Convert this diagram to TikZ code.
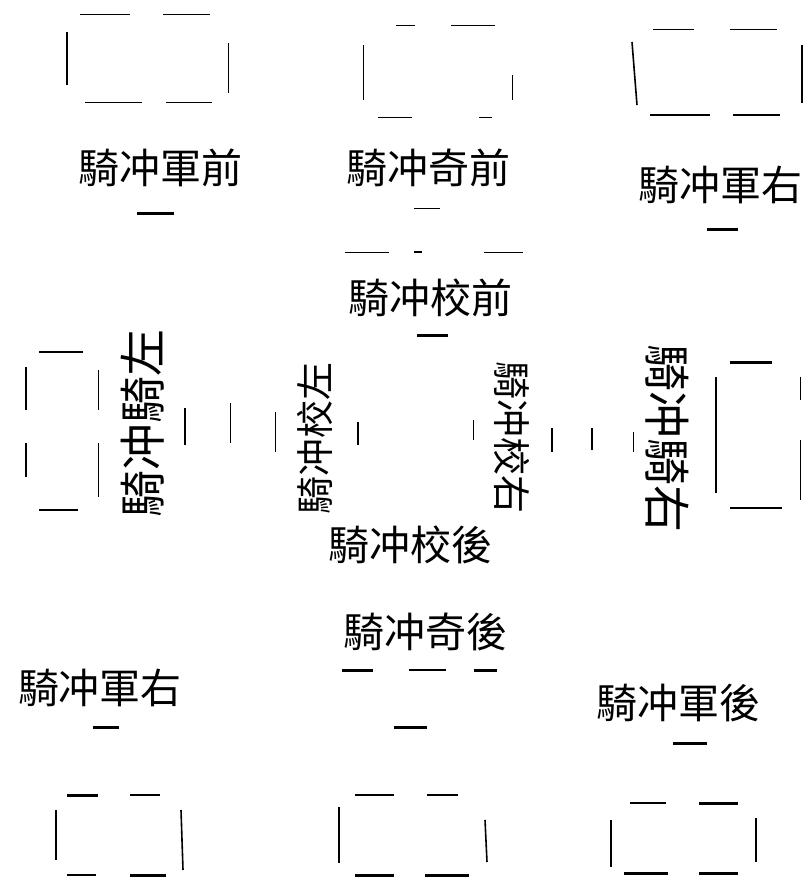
\documentclass[tikz,border=0pt]{standalone}
\usepackage{fontspec}
\newfontfamily\cjk{Noto Sans CJK TC}

\begin{document}
\begin{tikzpicture}[x=1pt, y=-1pt,
        lbl/.style={font={\cjk\fontsize{41}{41}\selectfont}, black, inner sep=0pt},
        vlbl/.style={font={\cjk\fontsize{47}{47}\selectfont}, black, inner sep=0pt},
        small vlbl/.style={font={\cjk\fontsize{38}{38}\selectfont}, black, inner sep=0pt},
        thin seg/.style={line width=1pt, black},
        seg/.style={line width=1.6pt, black},
        bar/.style={line width=3pt, black}]
        \useasboundingbox (0,0) rectangle (809,879);

        % top row of camps
        \draw[thin seg] (80,14) -- (130,14);   \draw[thin seg] (163,14) -- (210,14);
        \draw[seg] (67,32) -- (67,85);         \draw[thin seg] (228,43) -- (228,93);
        \draw[thin seg] (85,102) -- (142,102); \draw[thin seg] (166,102) -- (212,102);

        \draw[thin seg] (396,25) -- (415,25);  \draw[thin seg] (451,25) -- (495,25);
        \draw[thin seg] (363,45) -- (363,100); \draw[thin seg] (512,75) -- (512,100);
        \draw[thin seg] (378,117) -- (412,117);\draw[thin seg] (479,117) -- (492,117);

        \draw[thin seg] (653,29) -- (694,29);  \draw[thin seg] (730,29) -- (777,29);
        \draw[seg] (632,42) -- (637,105);      \draw[seg] (802,45) -- (802,103);
        \draw[seg] (650,115) -- (710,115);     \draw[seg] (733,115) -- (780,115);

        \node[lbl] (junqian) at (160,168) {騎冲軍前};
        \node[lbl] (qiqian) at (428,168) {騎冲奇前};
        \node[lbl] (junyouA) at (720,185) {騎冲軍右};

        \draw[bar] (137,213) -- (174,213);
        \draw[thin seg] (414,208) -- (440,208);
        \draw[bar] (707,229) -- (738,229);

        \draw[thin seg] (345,252) -- (389,252);
        \draw[seg] (414,252) -- (422,252);
        \draw[thin seg] (484,252) -- (523,252);
        \node[lbl] (jiaoqian) at (430,298) {騎冲校前};
        \draw[bar] (417,335) -- (448,335);

        % middle row
        \draw[seg] (39,352) -- (83,352);
        \draw[seg] (26,367) -- (26,410);       \draw[seg] (26,443) -- (26,477);
        \draw[thin seg] (98,370) -- (98,410);  \draw[thin seg] (98,443) -- (98,497);
        \draw[seg] (39,510) -- (78,510);

        \node[vlbl, rotate=90] (qizuo) at (143,423) {騎冲騎左};
        \node[small vlbl, rotate=90] (jiaozuo) at (315,438) {騎冲校左};
        \node[small vlbl, rotate=-90] (jiaoyou) at (512,437) {騎冲校右};
        \node[vlbl, rotate=-90] (qiyou) at (667,438) {騎冲騎右};

        \draw[seg] (185,408) -- (185,445);
        \draw[thin seg] (230,403) -- (230,443);
        \draw[thin seg] (275,412) -- (275,452);
        \draw[seg] (358,422) -- (358,445);
        \draw[thin seg] (473,420) -- (473,440);
        \draw[seg] (552,428) -- (552,452);
        \draw[seg] (592,428) -- (592,450);
        \draw[thin seg] (633,432) -- (633,452);

        \draw[bar] (730,362) -- (772,362);
        \draw[seg] (716,377) -- (716,493);
        \draw[thin seg] (800,377) -- (800,400);\draw[thin seg] (800,440) -- (800,500);
        \draw[seg] (730,508) -- (782,508);

        \node[lbl] (jiaohou) at (410,545) {騎冲校後};

        % bottom row
        \node[lbl] (qihou) at (425,632) {騎冲奇後};
        \draw[bar] (342,670) -- (373,670);
        \draw[seg] (409,670) -- (446,670);
        \draw[bar] (474,670) -- (497,670);

        \node[lbl] (junyouB) at (100,688) {騎冲軍右};
        \node[lbl] (junhou) at (678,703) {騎冲軍後};
        \draw[bar] (93,727) -- (119,727);
        \draw[bar] (394,727) -- (427,727);
        \draw[bar] (673,743) -- (707,743);

        \draw[bar] (67,795) -- (98,795);       \draw[seg] (130,795) -- (160,795);
        \draw[seg] (56,810) -- (56,860);       \draw[seg] (181,810) -- (183,870);
        \draw[seg] (67,875) -- (96,875);       \draw[bar] (130,875) -- (166,875);

        \draw[seg] (355,795) -- (394,795);     \draw[seg] (427,795) -- (458,795);
        \draw[seg] (339,807) -- (339,863);     \draw[seg] (485,820) -- (487,862);
        \draw[bar] (355,875) -- (394,875);     \draw[bar] (425,875) -- (469,875);

        \draw[seg] (630,803) -- (666,803);     \draw[bar] (699,803) -- (738,803);
        \draw[seg] (611,820) -- (611,867);     \draw[seg] (756,818) -- (756,862);
        \draw[bar] (624,873) -- (668,873);     \draw[bar] (699,873) -- (738,873);
\end{tikzpicture}
\end{document}
